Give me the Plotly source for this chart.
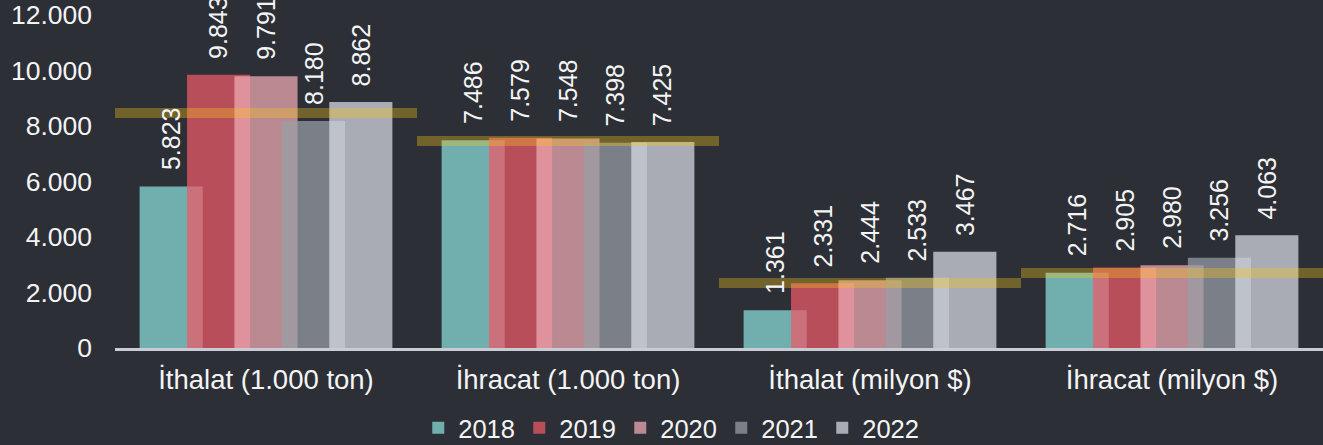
import plotly.graph_objects as go

categories = ["İthalat (1.000 ton)", "İhracat (1.000 ton)", "İthalat (milyon $)", "İhracat (milyon $)"]
years = ["2018", "2019", "2020", "2021", "2022"]
values = {
    "2018": [5823, 7486, 1361, 2716],
    "2019": [9843, 7579, 2331, 2905],
    "2020": [9791, 7548, 2444, 2980],
    "2021": [8180, 7398, 2533, 3256],
    "2022": [8862, 7425, 3467, 4063],
}
ref_line = [8470, 7460, 2340, 2700]
y_ticks = [0, 2000, 4000, 6000, 8000, 10000, 12000]

colors = ["rgba(139,224,221,0.73)", "rgba(237,90,105,0.73)", "rgba(239,172,181,0.73)",
          "rgba(152,157,166,0.73)", "rgba(215,220,228,0.73)"]
BG = "#2c2f36"
FONT = "Liberation Sans, Arial, sans-serif"
TXT = "#f4f4f4"

step = 0.157
bw = 0.209

fig = go.Figure()
annotations = []
for j, yr in enumerate(years):
    off = (j - 2) * step - bw / 2
    fig.add_trace(go.Bar(
        x=categories, y=values[yr], name=yr,
        marker=dict(color=colors[j], line=dict(width=0)),
        width=bw, offset=off,
    ))
    for i, v in enumerate(values[yr]):
        annotations.append(dict(
            x=i + (j - 2) * step, y=v, xref="x", yref="y",
            text=f"{v:,}".replace(",", "."), textangle=-90, showarrow=False,
            yanchor="bottom", xanchor="center", yshift=14,
            font=dict(family=FONT, size=25, color=TXT),
        ))

# step reference line, one horizontal segment per category
lx, ly = [], []
for i, v in enumerate(ref_line):
    lx += [i - 0.5, i + 0.5, None]
    ly += [v, v, None]
fig.add_trace(go.Scatter(
    x=lx, y=ly, xaxis="x2", mode="lines", showlegend=False,
    line=dict(color="rgba(250,195,25,0.34)", width=10), hoverinfo="skip",
))

fig.update_layout(
    width=1323, height=445,
    paper_bgcolor=BG, plot_bgcolor=BG,
    barmode="overlay",
    separators=",.",
    margin=dict(l=115, r=0, t=15, b=97),
    font=dict(family=FONT, size=24, color=TXT),
    xaxis=dict(type="category", showgrid=False, zeroline=False, showline=True,
               linecolor="#c9ccd4", linewidth=3, ticks="", ticklabelstandoff=5,
               tickfont=dict(size=27.5, color=TXT), range=[-0.5, 3.5]),
    xaxis2=dict(overlaying="x", range=[-0.5, 3.5], visible=False),
    yaxis=dict(range=[0, 12000], tickvals=y_ticks, tickformat=",d", showgrid=False,
               zeroline=False, showline=False, ticks="", ticklabelstandoff=22,
               tickfont=dict(size=26.5, color=TXT)),
    legend=dict(orientation="h", xref="container", yref="container", x=0.507, y=0.038,
                xanchor="center", yanchor="middle", font=dict(size=25.5, color=TXT),
                bgcolor="rgba(0,0,0,0)", entrywidth=56),
    annotations=annotations,
    showlegend=True,
)

fig.write_html("out.html", config={"displayModeBar": False},
               post_script="document.body.style.margin='0';document.body.style.overflow='hidden';")
